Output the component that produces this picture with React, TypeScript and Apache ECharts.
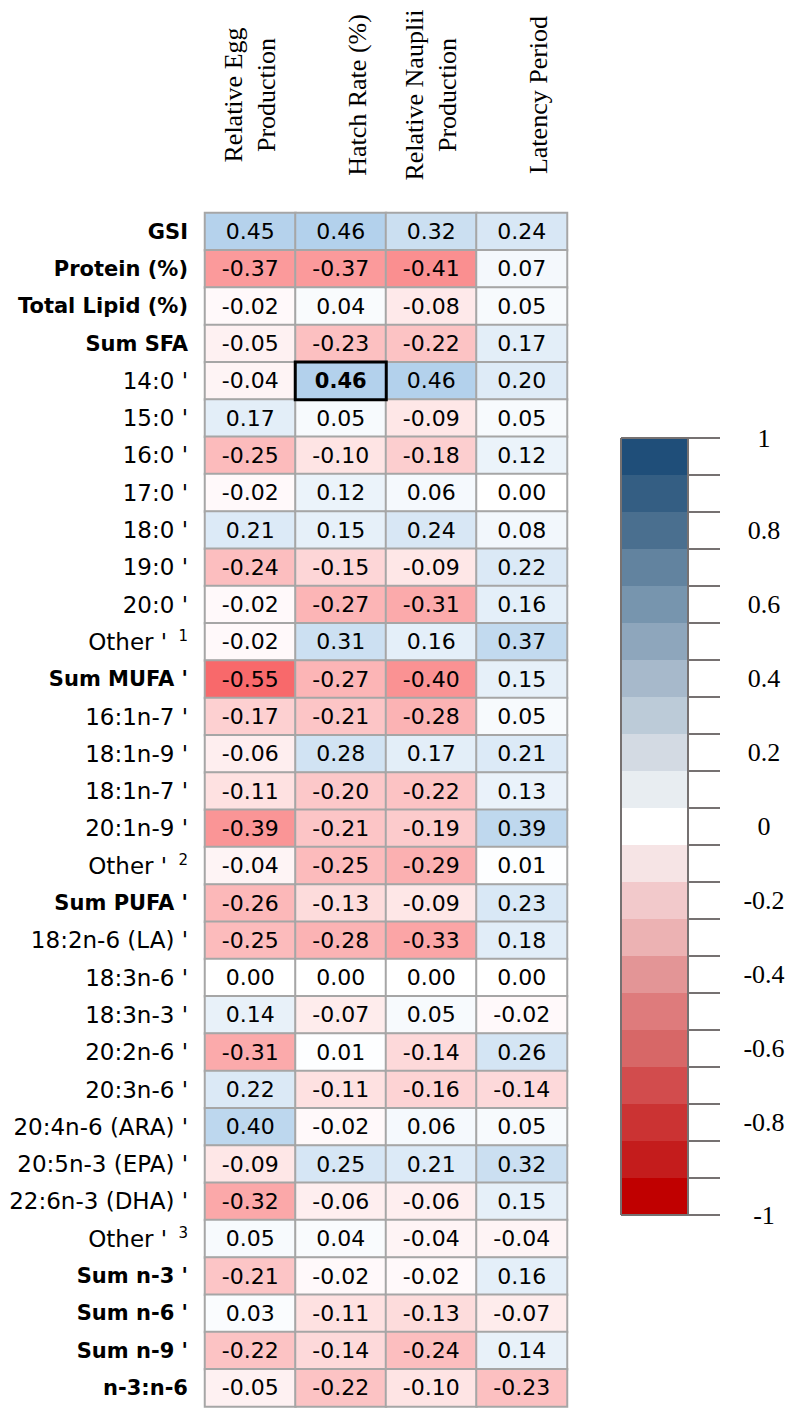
import React, { useEffect, useRef } from "react";
import * as echarts from "echarts";

// Column headers (reproductive measures)
const measures = [
  "Relative Egg\nProduction",
  "Hatch Rate (%)",
  "Relative Nauplii\nProduction",
  "Latency Period",
];

// Row labels (female condition / fatty acids); "^n" marks a footnote number
const rowLabels = [
  "GSI", "Protein (%)", "Total Lipid (%)", "Sum SFA",
  "14:0 '", "15:0 '", "16:0 '", "17:0 '", "18:0 '", "19:0 '", "20:0 '", "Other ' ^1",
  "Sum MUFA '", "16:1n-7 '", "18:1n-9 '", "18:1n-7 '", "20:1n-9 '", "Other ' ^2",
  "Sum PUFA '", "18:2n-6 (LA) '", "18:3n-6 '", "18:3n-3 '", "20:2n-6 '", "20:3n-6 '",
  "20:4n-6 (ARA) '", "20:5n-3 (EPA) '", "22:6n-3 (DHA) '", "Other ' ^3",
  "Sum n-3 '", "Sum n-6 '", "Sum n-9 '", "n-3:n-6",
];

const boldRows = [
  "GSI", "Protein (%)", "Total Lipid (%)", "Sum SFA", "Sum MUFA '", "Sum PUFA '",
  "Sum n-3 '", "Sum n-6 '", "Sum n-9 '", "n-3:n-6",
];

// Correlation coefficients, one array per measure, in row order
const eggProduction = [
  0.45, -0.37, -0.02, -0.05, -0.04, 0.17, -0.25, -0.02, 0.21, -0.24, -0.02, -0.02,
  -0.55, -0.17, -0.06, -0.11, -0.39, -0.04, -0.26, -0.25, 0.0, 0.14, -0.31, 0.22,
  0.4, -0.09, -0.32, 0.05, -0.21, 0.03, -0.22, -0.05,
];
const hatchRate = [
  0.46, -0.37, 0.04, -0.23, 0.46, 0.05, -0.1, 0.12, 0.15, -0.15, -0.27, 0.31,
  -0.27, -0.21, 0.28, -0.2, -0.21, -0.25, -0.13, -0.28, 0.0, -0.07, 0.01, -0.11,
  -0.02, 0.25, -0.06, 0.04, -0.02, -0.11, -0.14, -0.22,
];
const naupliiProduction = [
  0.32, -0.41, -0.08, -0.22, 0.46, -0.09, -0.18, 0.06, 0.24, -0.09, -0.31, 0.16,
  -0.4, -0.28, 0.17, -0.22, -0.19, -0.29, -0.09, -0.33, 0.0, 0.05, -0.14, -0.16,
  0.06, 0.21, -0.06, -0.04, -0.02, -0.13, -0.24, -0.1,
];
const latencyPeriod = [
  0.24, 0.07, 0.05, 0.17, 0.2, 0.05, 0.12, 0.0, 0.08, 0.22, 0.16, 0.37,
  0.15, 0.05, 0.21, 0.13, 0.39, 0.01, 0.23, 0.18, 0.0, -0.02, 0.26, -0.14,
  0.05, 0.32, 0.15, -0.04, 0.16, -0.07, 0.14, -0.23,
];

// Cell singled out with a bold value and a black frame
const highlightRow = "14:0 '";
const highlightMeasure = "Hatch Rate (%)";

// Stepped colour key: step centres (top to bottom) and their fills
const keySteps = [1.0, 0.9, 0.8, 0.7, 0.6, 0.5, 0.4, 0.3, 0.2, 0.1, 0.0,
  -0.1, -0.2, -0.3, -0.4, -0.5, -0.6, -0.7, -0.8, -0.9, -1.0];
const keyColors = [
  "#1f4e79", "#345e83", "#4a6f8f", "#62839f", "#7795ae", "#8ea6bc", "#a7b9cb",
  "#bccbd8", "#d3dae3", "#e8edf1", "#ffffff", "#f6e4e5", "#f2c9cb", "#ecb2b3",
  "#e39596", "#de7b7c", "#d76767", "#d24c4d", "#cb3333", "#c41c1c", "#c00000",
];
const keyLabels = ["1", "0.8", "0.6", "0.4", "0.2", "0", "-0.2", "-0.4", "-0.6", "-0.8", "-1"];
const keyLabelValues = [1, 0.8, 0.6, 0.4, 0.2, 0, -0.2, -0.4, -0.6, -0.8, -1];

const series = [eggProduction, hatchRate, naupliiProduction, latencyPeriod];

// Three-colour scale: lowest value -> red, 0 -> white, 1 -> blue
const RED_END = [248, 105, 107];
const BLUE_END = [91, 155, 213];
const lowest = Math.min(...series.flat());

function mix(end: number[], t: number) {
  const c = end.map((e) => Math.round(255 + (e - 255) * Math.max(0, Math.min(1, t))));
  return `rgb(${c[0]},${c[1]},${c[2]})`;
}
function cellColor(v: number) {
  return v < 0 ? mix(RED_END, v / lowest) : mix(BLUE_END, v);
}

// Colour stops every 0.05 from the lowest value up to 1 (0 falls on a stop)
const scaleStops: string[] = [];
for (let k = 0; lowest + k * 0.05 <= 1 + 1e-9; k++) {
  scaleStops.push(cellColor(lowest + k * 0.05));
}
const scaleMax = lowest + (scaleStops.length - 1) * 0.05;

const SANS = "DejaVu Sans";
const SERIF = "Liberation Serif";

function rowLabelText(v: string) {
  if (boldRows.includes(v)) return `{b|${v}}`;
  const m = v.match(/^(.*)\^(\d)$/);
  if (m) return `{n|${m[1]}}{s|${m[2]}}`;
  return `{n|${v}}`;
}

export default function App() {
  const ref = useRef<HTMLDivElement>(null);

  useEffect(() => {
    document.body.style.margin = "0";
    document.body.style.overflow = "hidden";
    const chart = echarts.init(ref.current!, null, { renderer: "svg" });

    const gridLeft = 205;
    const gridTop = 213;
    const colW = 90.5;
    const rowH = 37.3;
    const nCols = measures.length;
    const nRows = rowLabels.length;

    const hr = rowLabels.indexOf(highlightRow);
    const hc = measures.indexOf(highlightMeasure);

    const cells: any[] = [];
    let special: any = null;
    series.forEach((vals, c) => {
      vals.forEach((v, r) => {
        if (r === hr && c === hc) {
          special = {
            value: [c, r, v],
            itemStyle: { borderColor: "#000", borderWidth: 3 },
            label: { fontWeight: "bold", fontSize: 21 },
          };
        } else {
          cells.push([c, r, v]);
        }
      });
    });
    if (special) cells.push(special);

    // Rotated column headers, bottom-aligned like the sheet they come from
    const headerLine = 33;
    const headers = measures.map((m, i) => ({
      type: "text",
      x: gridLeft + (i + 0.5) * colW + headerLine,
      y: 95,
      rotation: Math.PI / 2,
      style: {
        text: m,
        font: `26px "${SERIF}"`,
        fill: "#000",
        lineHeight: headerLine,
        textAlign: "center",
        align: "center",
        textVerticalAlign: "bottom",
        verticalAlign: "bottom",
      },
    }));

    const keyTickLen = 32;
    const keyHalf = 0.05;

    const option: any = {
      animation: false,
      backgroundColor: "#fff",
      graphic: { elements: headers },
      visualMap: {
        show: false,
        type: "continuous",
        seriesIndex: 0,
        dimension: 2,
        min: lowest,
        max: scaleMax,
        inRange: { color: scaleStops },
      },
      grid: [
        { left: gridLeft, top: gridTop, width: nCols * colW, height: nRows * rowH },
        { left: 621, top: 438, width: 67, height: 777 },
      ],
      xAxis: [
        { type: "category", gridIndex: 0, data: measures, show: false },
        { type: "value", gridIndex: 1, min: 0, max: 1, show: false },
      ],
      yAxis: [
        {
          type: "category",
          gridIndex: 0,
          data: rowLabels,
          inverse: true,
          axisLine: { show: false },
          axisTick: { show: false },
          splitLine: { show: false },
          axisLabel: {
            margin: 17,
            fontFamily: SANS,
            fontSize: 23,
            color: "#000",
            formatter: rowLabelText,
            rich: {
              b: { fontFamily: SANS, fontSize: 21, fontWeight: "bold", color: "#000", lineHeight: 26 },
              n: { fontFamily: SANS, fontSize: 23, color: "#000", lineHeight: 26 },
              s: {
                fontFamily: SANS,
                fontSize: 15,
                color: "#000",
                lineHeight: 26,
                verticalAlign: "top",
                padding: [0, 0, 0, 4],
              },
            },
          },
        },
        { type: "value", gridIndex: 1, min: -1.05, max: 1.05, show: false },
      ],
      series: [
        {
          type: "heatmap",
          xAxisIndex: 0,
          yAxisIndex: 0,
          data: cells,
          itemStyle: { borderColor: "#a6a6a6", borderWidth: 2 },
          label: {
            show: true,
            fontFamily: SANS,
            fontSize: 22,
            color: "#000",
            formatter: (p: any) => p.value[2].toFixed(2),
          },
          emphasis: { disabled: true },
        },
        {
          type: "custom",
          xAxisIndex: 1,
          yAxisIndex: 1,
          clip: false,
          silent: true,
          data: keySteps.map((s, i) => [s, i]),
          renderItem: (_params: any, api: any) => {
            const centre = api.value(0);
            const i = api.value(1);
            const tl = api.coord([0, centre + keyHalf]);
            const br = api.coord([1, centre - keyHalf]);
            const left = tl[0];
            const right = br[0];
            const top = tl[1];
            const bottom = br[1];
            const stroke = { stroke: "#767171", lineWidth: 2 };
            const children: any[] = [
              {
                type: "rect",
                shape: { x: left, y: top, width: right - left, height: bottom - top },
                style: { fill: keyColors[i] },
              },
              { type: "line", shape: { x1: left, y1: top, x2: left, y2: bottom }, style: stroke },
              { type: "line", shape: { x1: right, y1: top, x2: right, y2: bottom }, style: stroke },
              {
                type: "line",
                shape: { x1: i === 0 ? left : right, y1: top, x2: right + keyTickLen, y2: top },
                style: stroke,
              },
            ];
            if (i === keySteps.length - 1) {
              children.push({
                type: "line",
                shape: { x1: left, y1: bottom, x2: right + keyTickLen, y2: bottom },
                style: stroke,
              });
            }
            return { type: "group", children };
          },
        },
        {
          type: "custom",
          xAxisIndex: 1,
          yAxisIndex: 1,
          clip: false,
          silent: true,
          data: keyLabelValues.map((v, i) => [v, i]),
          renderItem: (_params: any, api: any) => {
            const v = api.value(0);
            const i = api.value(1);
            // end labels sit on the ends of the key
            const y = Math.abs(v) === 1 ? Math.sign(v) * (1 + keyHalf) : v;
            const p = api.coord([1, y]);
            return {
              type: "text",
              style: {
                text: keyLabels[i],
                x: p[0] + keyTickLen + 44,
                y: p[1],
                font: `26px "${SERIF}"`,
                fill: "#000",
                textAlign: "center",
                align: "center",
                textVerticalAlign: "middle",
                verticalAlign: "middle",
              },
            };
          },
        },
      ],
    };

    chart.setOption(option);
    return () => chart.dispose();
  }, []);

  return <div ref={ref} style={{ width: 787, height: 1411 }} />;
}
